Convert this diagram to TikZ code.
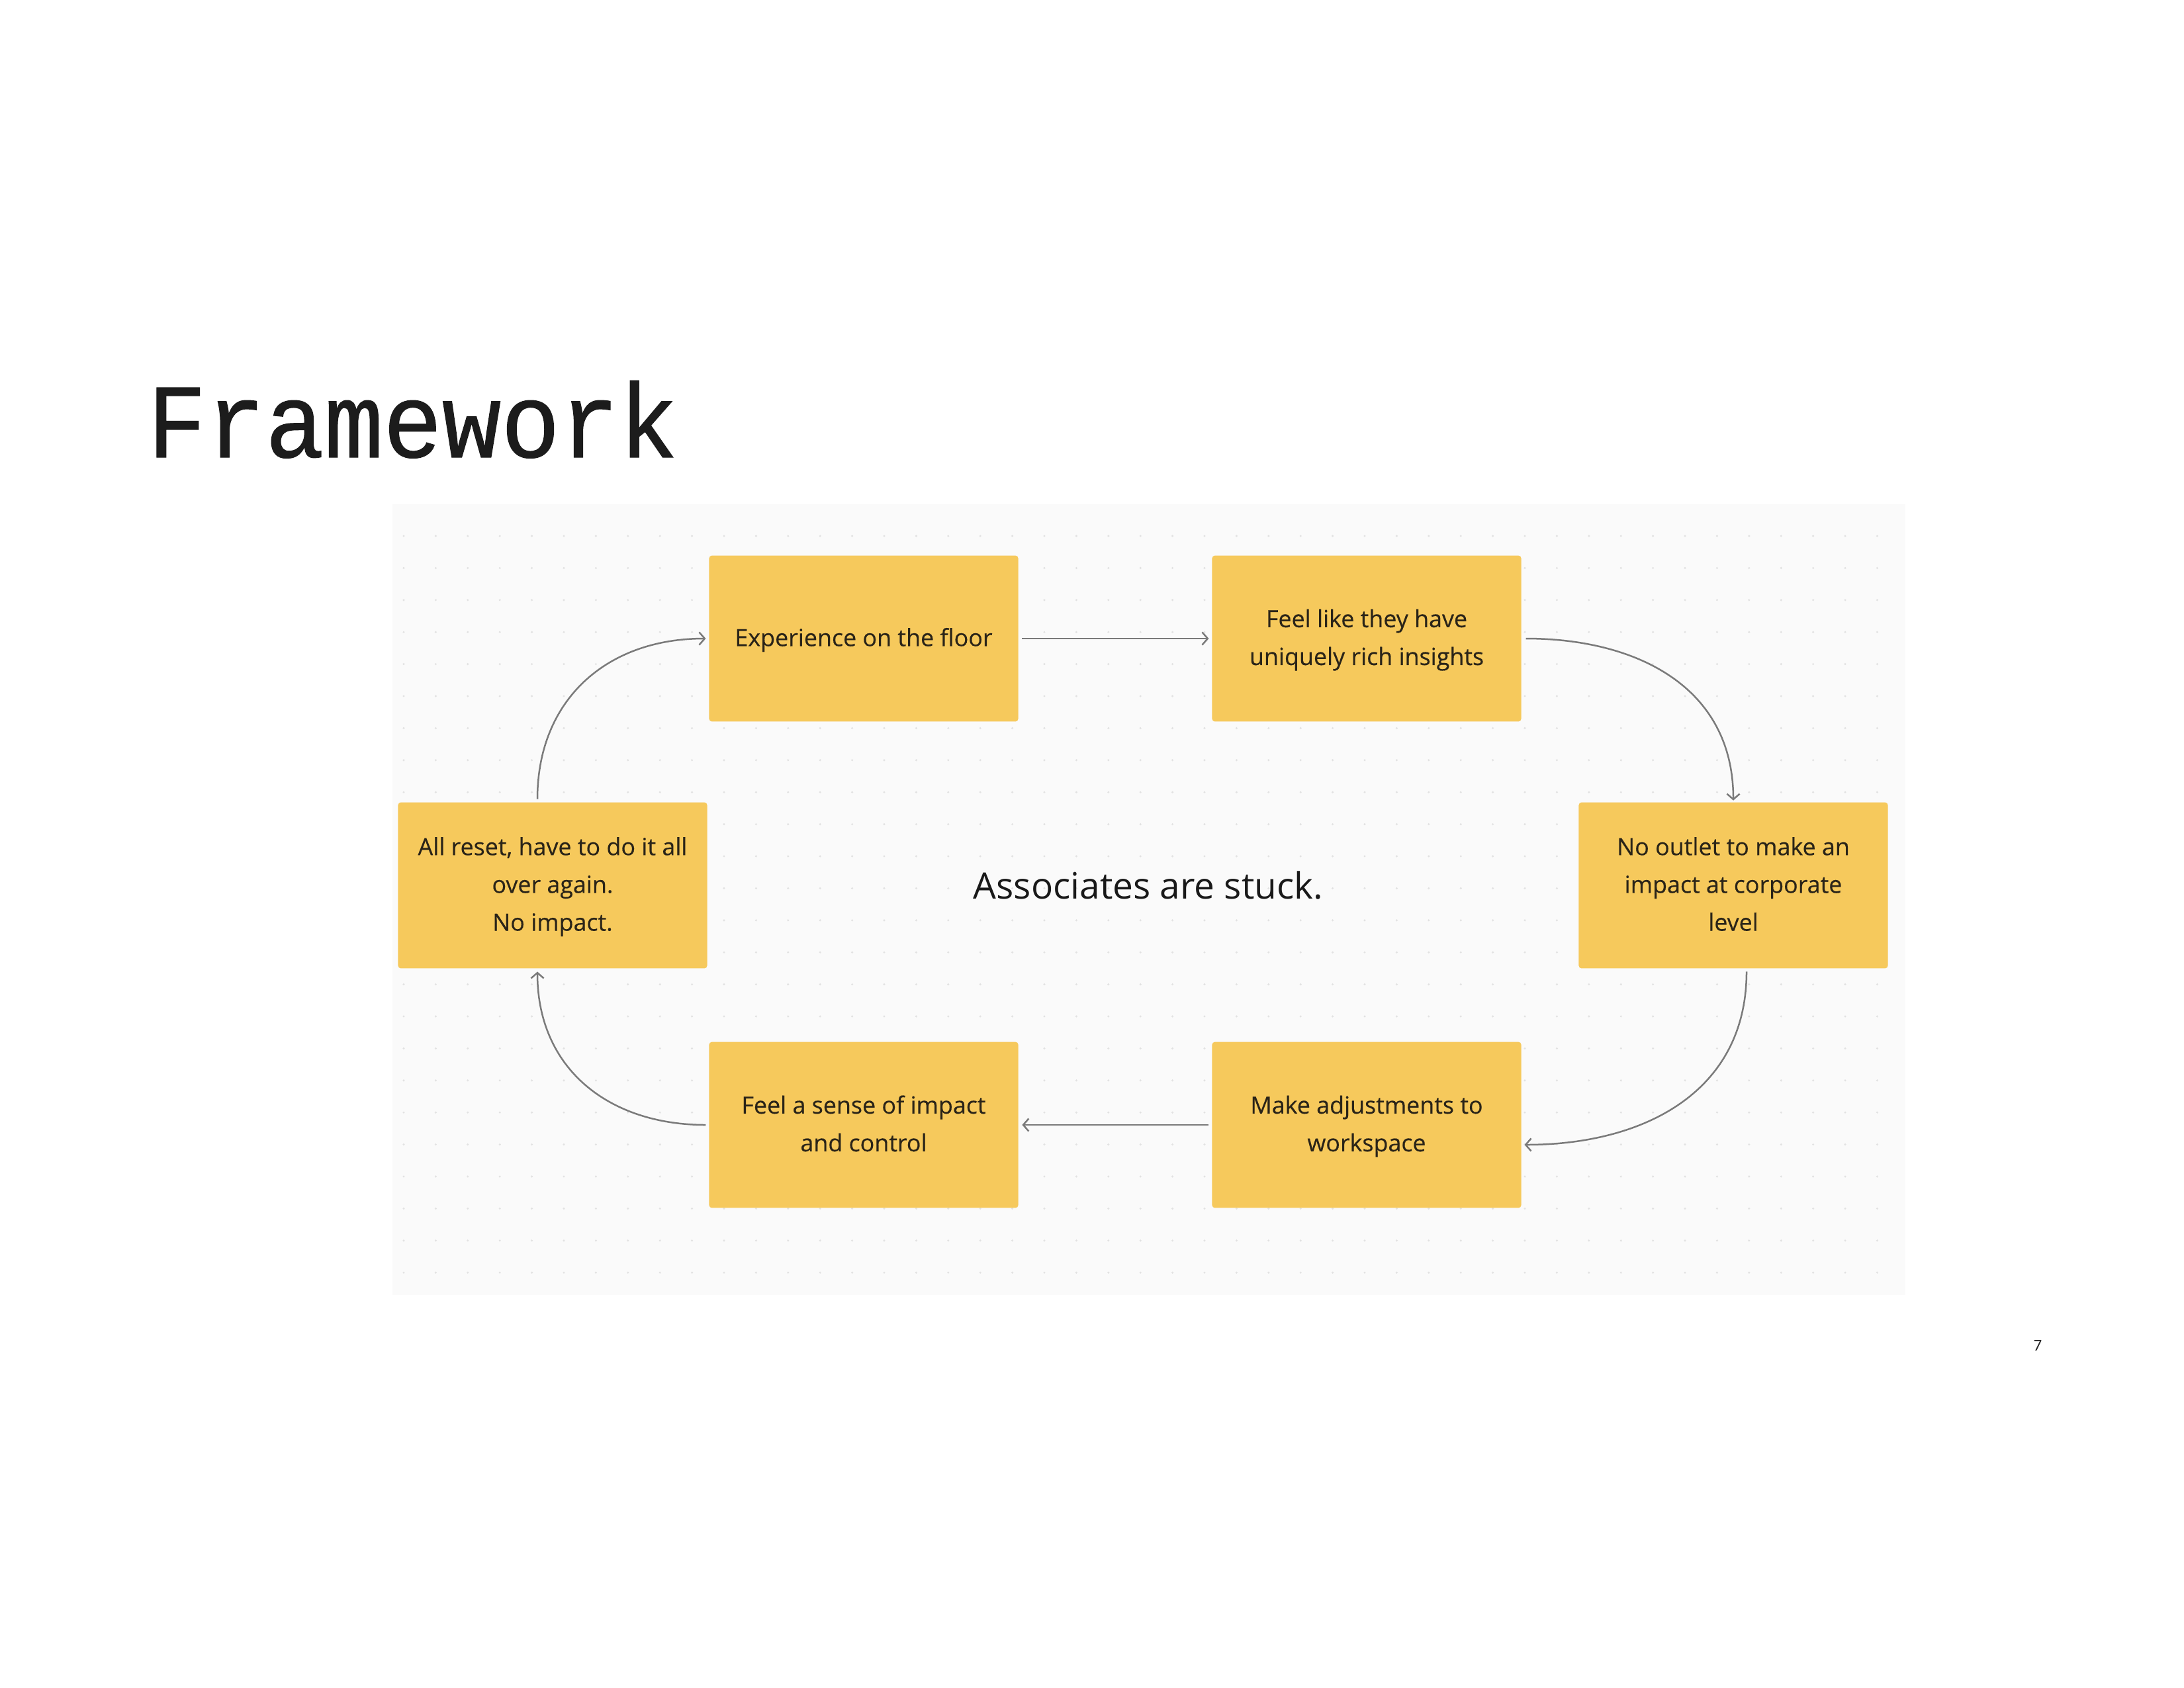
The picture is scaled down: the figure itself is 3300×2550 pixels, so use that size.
\documentclass[tikz,border=0pt]{standalone}
\usepackage{fontspec}
\setmainfont{Open Sans}
\newfontfamily\stickyfont[FakeBold=0.35]{Open Sans}
\newfontfamily\titlefont[FakeStretch=0.93,FakeBold=0.8]{Liberation Mono}
\newfontfamily\pgfont{Carlito}
\usetikzlibrary{arrows.meta,calc}
\definecolor{sticky}{HTML}{F6C95C}
\definecolor{panelbg}{HTML}{FAFAFA}
\definecolor{dotc}{HTML}{E2E2E2}
\definecolor{arrowc}{HTML}{7A7A7A}
\definecolor{stickytext}{HTML}{2A2418}
\definecolor{titlec}{HTML}{1C1C1C}
\newcommand{\stk}[1]{\raisebox{-2pt}{\begin{tabular}{@{}c@{}}#1\end{tabular}}}
\tikzset{
  stickybox/.style={fill=sticky, rounded corners=1pt, minimum width=112.1pt, minimum height=60.2pt,
    inner sep=0pt, align=center, text=stickytext, font=\stickyfont\fontsize{8.6}{13.7}\selectfont},
  flow/.style={draw=arrowc, line width=0.6pt, -{Straight Barb[length=2pt,width=4.6pt,line width=0.6pt]}},
}
\begin{document}
\begin{tikzpicture}[x=0.24pt,y=-0.24pt]
\useasboundingbox (0,0) rectangle (3300,2550);
\fill[white] (0,0) rectangle (3300,2550);
\fill[panelbg] (593,762) rectangle (2879,1957);
\foreach \i in {0,...,46} {
  \foreach \j in {0,...,23} {
    \fill[dotc] (610+\i*48.4, 810+\j*48.4) circle (1.7);
  }
}
\node[anchor=base west, text=titlec, font=\titlefont\fontsize{38.3}{39}\selectfont, inner sep=0pt] (title) at (222,691) {Framework};

\node[stickybox] (exp) at (1305,965) {\stk{Experience on the floor}};
\node[stickybox] (feel) at (2065,965) {\stk{Feel like they have\\uniquely rich insights}};
\node[stickybox] (outlet) at (2619,1338) {\stk{No outlet to make an\\impact at corporate\\level}};
\node[stickybox] (adj) at (2065,1700) {\stk{Make adjustments to\\workspace}};
\node[stickybox] (sense) at (1305,1700) {\stk{Feel a sense of impact\\and control}};
\node[stickybox] (reset) at (835,1338) {\stk{All reset, have to do it all\\over again.\\No impact.}};

\node[text=black!90, font=\fontsize{13.2}{16}\selectfont] (stuck) at (1735,1338) {Associates are stuck.};
\node[font=\pgfont\fontsize{6}{7}\selectfont, text=black!85] (pg) at (3079,2033) {7};

\draw[flow, shorten <=1.2pt, shorten >=1pt] (exp.east) -- (feel.west);
\draw[flow, shorten <=1.5pt, shorten >=0.5pt] (feel.east) to[out=0,in=90,looseness=1.1] (outlet.north);
\draw[flow, shorten <=1pt, shorten >=1pt] ($(outlet.south)+(20,0)$) to[out=-90,in=0,looseness=1.1] ($(adj.east)+(0,30)$);
\draw[flow, shorten <=1pt, shorten >=1.2pt] (adj.west) -- (sense.east);
\draw[flow, shorten <=1pt, shorten >=1pt] (sense.west) to[out=180,in=-90,looseness=1.1] ($(reset.south)+(-23,0)$);
\draw[flow, shorten <=1pt, shorten >=1pt] ($(reset.north)+(-23,0)$) to[out=90,in=180,looseness=1.1] (exp.west);
\end{tikzpicture}
\end{document}
